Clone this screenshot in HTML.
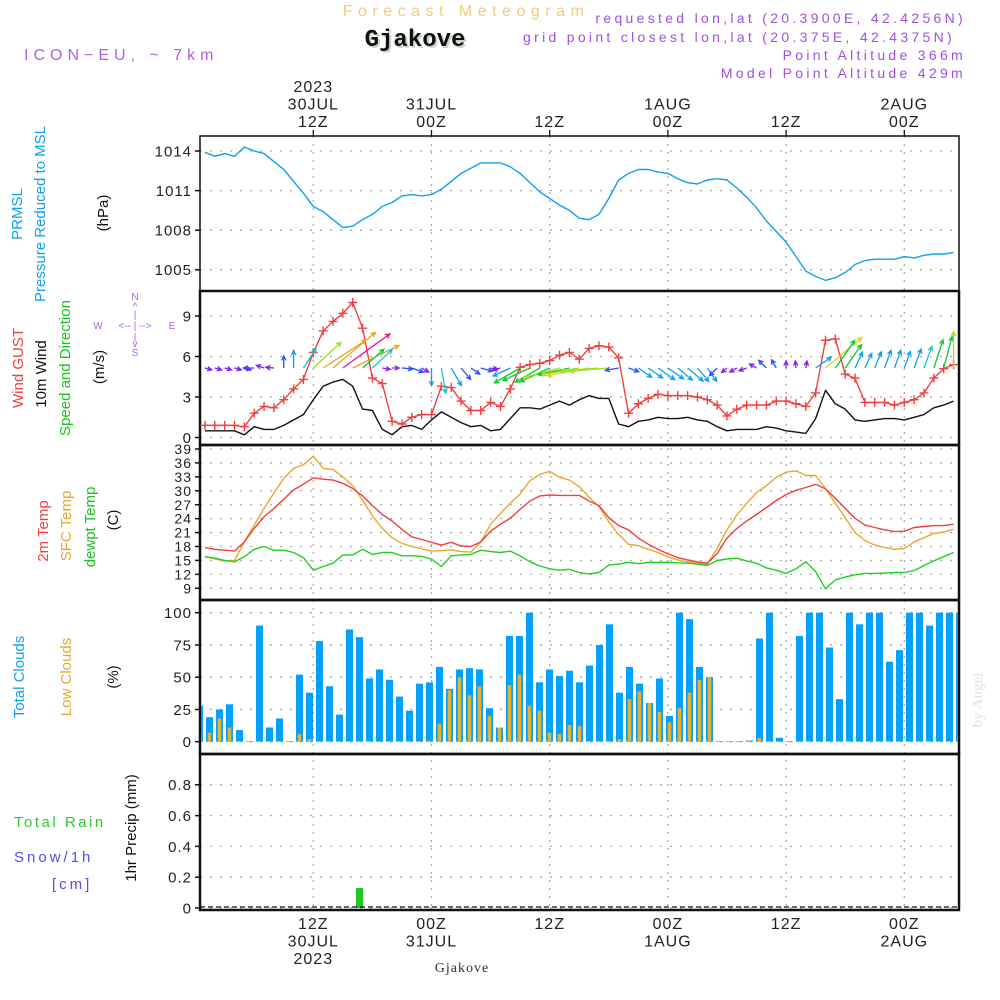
<!DOCTYPE html>
<html><head><meta charset="utf-8"><style>
html,body{margin:0;padding:0;background:#fff;}
svg{display:block;font-family:"Liberation Sans",sans-serif;}
</style></head><body>
<svg id="chart" width="1000" height="1000" viewBox="0 0 1000 1000" xmlns="http://www.w3.org/2000/svg">
<text x="466" y="16" text-anchor="middle" font-size="16" letter-spacing="5.5" fill="#f2cc80">Forecast Meteogram</text>
<text x="417" y="48" text-anchor="middle" font-family="Liberation Mono,monospace" font-weight="bold" font-size="24" fill="#c8d8c8">Gjakove</text>
<text x="415" y="46" text-anchor="middle" font-family="Liberation Mono,monospace" font-weight="bold" font-size="24" fill="#111">Gjakove</text>
<text x="24" y="60" font-size="16" letter-spacing="5" fill="#b060e8">ICON−EU, ~ 7km</text>
<g font-size="14" letter-spacing="3.3" fill="#a050e0" text-anchor="end">
<text x="966" y="23">requested lon,lat (20.3900E, 42.4256N)</text>
<text x="955" y="42">grid point closest lon,lat (20.375E, 42.4375N)</text>
<text x="966" y="60">Point Altitude 366m</text>
<text x="966" y="78">Model Point Altitude 429m</text>
</g>
<g id="axes"></g>
<g id="marks"></g>
<g font-size="15">
<text transform="translate(22,214) rotate(-90)" text-anchor="middle" fill="#10a0f0">PRMSL</text>
<text transform="translate(45,214) rotate(-90)" text-anchor="middle" fill="#10a0f0">Pressure  Reduced to MSL</text>
<text transform="translate(108,213) rotate(-90)" text-anchor="middle" fill="#111">(hPa)</text>
<text transform="translate(23,368) rotate(-90)" text-anchor="middle" fill="#f04040">Wind GUST</text>
<text transform="translate(46,374) rotate(-90)" text-anchor="middle" fill="#111">10m Wind</text>
<text transform="translate(70,368) rotate(-90)" text-anchor="middle" fill="#20c020">Speed and Direction</text>
<text transform="translate(104,367) rotate(-90)" text-anchor="middle" fill="#111">(m/s)</text>
<text transform="translate(48,531) rotate(-90)" text-anchor="middle" fill="#f04040">2m Temp</text>
<text transform="translate(71,526) rotate(-90)" text-anchor="middle" fill="#e8a830">SFC Temp</text>
<text transform="translate(95,527) rotate(-90)" text-anchor="middle" fill="#20c020">dewpt Temp</text>
<text transform="translate(118,520) rotate(-90)" text-anchor="middle" fill="#111">(C)</text>
<text transform="translate(24,677) rotate(-90)" text-anchor="middle" fill="#10a0f0">Total Clouds</text>
<text transform="translate(71,677) rotate(-90)" text-anchor="middle" fill="#e8a830">Low Clouds</text>
<text transform="translate(118,677) rotate(-90)" text-anchor="middle" fill="#111">(%)</text>
<text transform="translate(136,828) rotate(-90)" text-anchor="middle" fill="#111">1hr Precip (mm)</text>
<text x="14" y="827" letter-spacing="2.5" fill="#30c830">Total   Rain</text>
<text x="14" y="862" letter-spacing="3" fill="#5050f0">Snow/1h</text>
<text x="52" y="889" letter-spacing="3" fill="#5050f0">[cm]</text>
</g>
<g font-size="10" fill="#b060e8" text-anchor="middle">
<text x="135" y="300">N</text><text x="135" y="310">^</text><text x="135" y="318">|</text>
<text x="98" y="329">W</text><text x="135" y="329">&lt;-- | --&gt;</text><text x="172" y="329">E</text>
<text x="135" y="340">|</text><text x="135" y="347">v</text><text x="135" y="356">S</text>
</g>
<text transform="translate(982,700) rotate(-90)" text-anchor="middle" font-family="Liberation Serif,serif" font-size="15" fill="#dde5dd">by Angel</text>
<text x="462" y="972" text-anchor="middle" font-family="Liberation Serif,serif" font-size="14" letter-spacing="1" fill="#333">Gjakove</text>
</svg>
<script>
const pressure=[1013.9,1013.6,1013.8,1013.6,1014.3,1014.0,1013.8,1013.2,1012.6,1011.7,1010.8,1009.8,1009.4,1008.8,1008.2,1008.3,1008.8,1009.2,1009.8,1010.1,1010.6,1010.7,1010.6,1010.7,1011.1,1011.7,1012.3,1012.7,1013.1,1013.1,1013.1,1012.8,1012.3,1011.6,1010.9,1010.4,1009.9,1009.5,1008.9,1008.8,1009.2,1010.4,1011.8,1012.3,1012.6,1012.6,1012.4,1012.3,1011.9,1011.6,1011.5,1011.8,1011.9,1011.8,1011.2,1010.5,1009.7,1008.7,1007.9,1007.1,1006.0,1004.9,1004.5,1004.2,1004.4,1004.8,1005.4,1005.7,1005.8,1005.8,1005.8,1006.0,1005.9,1006.1,1006.2,1006.2,1006.3];
const gust=[0.9,0.9,0.9,0.9,0.8,1.8,2.3,2.2,2.8,3.6,4.3,6.3,7.9,8.6,9.2,10.0,8.1,4.4,4.0,1.2,1.0,1.5,1.7,1.7,3.8,3.7,2.7,2.0,2.0,2.6,2.3,3.6,5.2,5.4,5.5,5.7,6.1,6.3,5.8,6.6,6.8,6.7,5.9,1.8,2.5,2.9,3.2,3.1,3.1,3.1,3.0,2.8,2.4,1.6,2.1,2.4,2.4,2.4,2.7,2.7,2.5,2.3,3.3,7.2,7.3,4.7,4.4,2.6,2.6,2.6,2.4,2.6,2.8,3.3,4.4,5.1,5.4];
const wind=[0.5,0.5,0.5,0.5,0.2,0.8,0.6,0.6,0.9,1.3,1.7,2.8,3.8,4.1,4.3,3.8,2.1,2.0,0.6,0.2,0.8,0.9,0.6,1.3,1.9,1.5,1.1,0.8,0.9,0.5,0.6,1.4,2.2,2.2,2.1,2.4,2.7,2.4,2.8,3.1,2.9,2.9,1.0,0.8,1.2,1.3,1.5,1.4,1.4,1.5,1.3,1.2,0.8,0.5,0.6,0.6,0.6,0.8,0.7,0.5,0.4,0.3,1.4,3.5,2.5,2.1,1.3,1.2,1.3,1.4,1.4,1.3,1.5,1.7,2.2,2.4,2.7];
const windDir=[-15,-15,-15,-15,-15,180,160,175,90,90,57,43,33,40,36,26,41,43,-10,0,-5,-20,-30,-90,-80,-60,-50,-35,-15,-10,195,205,210,205,210,205,195,192,190,190,185,185,190,-20,-35,-35,-35,-35,-40,-40,-50,-55,225,220,210,200,150,135,120,90,95,80,35,40,55,55,65,65,68,70,70,70,70,70,72,75,90];
const temp2m=[17.8,17.4,17.2,17.0,19.0,21.9,24.4,26.2,28.2,30.2,31.4,32.8,32.5,32.3,31.6,30.5,28.9,26.8,24.9,23.5,21.7,20.1,19.5,18.9,18.3,18.9,18.1,18.0,19.0,21.3,22.8,24.1,26.0,27.8,28.9,29.1,29.0,29.0,29.0,27.8,26.8,24.2,22.5,21.6,19.8,18.5,17.4,16.4,15.6,15.1,14.7,14.4,16.5,19.8,21.9,23.5,24.9,26.4,27.9,29.2,30.1,30.7,31.4,30.4,28.4,26.2,24.1,22.6,22.1,21.6,21.2,21.3,22.1,22.3,22.5,22.5,22.8];
const sfcTemp=[15.8,15.3,14.9,15.0,19.0,22.6,26.2,29.5,32.7,34.8,35.6,37.5,34.8,34.6,33.0,31.1,28.0,24.6,21.9,19.9,18.7,18.0,17.5,17.0,17.1,17.3,16.9,16.8,19.0,22.8,25.1,27.3,29.3,32.2,33.5,34.2,32.9,32.3,30.9,28.6,26.6,23.3,20.6,18.5,18.2,17.4,16.7,15.8,15.1,14.7,14.4,14.2,17.6,21.6,24.8,27.3,29.6,31.1,32.9,34.0,34.3,33.3,33.3,30.5,27.3,24.2,21.0,19.3,18.3,17.8,17.4,17.6,19.0,19.9,20.8,21.1,21.7];
const dewpt=[15.8,15.5,15.0,14.7,15.8,17.4,18.0,17.2,17.2,16.7,15.6,12.9,13.7,14.4,16.2,16.2,17.4,16.3,16.7,16.7,16.0,16.0,15.9,15.3,13.7,16.0,16.2,16.3,17.2,16.9,16.7,17.0,16.0,14.7,13.8,13.2,12.9,13.1,12.4,12.1,12.4,14.0,14.2,14.6,14.3,14.6,14.6,14.6,14.5,14.4,14.2,13.9,15.0,15.3,15.5,14.9,14.4,13.4,12.9,12.2,13.2,14.7,12.6,8.9,10.8,11.4,11.9,12.2,12.2,12.3,12.4,12.4,12.8,13.9,14.9,15.8,16.7];
const totalClouds=[28,19,25,29,9,0.5,90,11,18,0.5,52,38,78,43,21,87,81,49,56,48,35,24,45,46,58,41,56,57,56,26,11,82,82,100,46,56,51,55,46,59,75,91,38,58,45,30,49,20,100,95,58,50,0.5,0.5,0.5,1,80,100,3,0.5,82,100,100,73,33,100,91,100,100,62,71,100,100,90,100,100,100];
const lowClouds=[5,7,18,11,0.5,0.5,0.5,0.5,0.5,0.5,6,2,0.5,0.5,0.5,0.5,0.5,0.5,0.5,0.5,0.5,0.5,0.5,1,14,40,50,36,43,20,11,44,52,28,24,7,6,13,12,0.5,0.5,0.5,2,33,39,30,23,15,26,38,48,50,0.5,0.5,0.5,1,3,0.5,0.5,0.5,0.5,0.5,0.5,0.5,0.5,0.5,0.5,0.5,0.5,0.5,0.5,0.5,0.5,0.5,0.5,0.5,0.5];
const precip=[0,0,0,0,0,0,0,0,0,0,0,0,0,0,0,0,0.13,0,0,0,0,0,0,0,0,0,0,0,0,0,0,0,0,0,0,0,0,0,0,0,0,0,0,0,0,0,0,0,0,0,0,0,0,0,0,0,0,0,0,0,0,0,0,0,0,0,0,0,0,0,0,0,0,0,0,0];
const pressureTicks=[1005,1008,1011,1014];
const windTicks=[0,3,6,9];
const tempTicks=[9,12,15,18,21,24,27,30,33,36,39];
const cloudTicks=[0,25,50,75,100];
const precipTicks=[0,0.2,0.4,0.6,0.8];
const timeTicks=[12,24,36,48,60,72];
const topLabels=[["2023","30JUL","12Z"],["","31JUL","00Z"],["","","12Z"],["","1AUG","00Z"],["","","12Z"],["","2AUG","00Z"]];
const bottomLabels=[["12Z","30JUL","2023"],["00Z","31JUL",""],["12Z","",""],["00Z","1AUG",""],["12Z","",""],["00Z","2AUG",""]];

const NS="http://www.w3.org/2000/svg";
const L=200,R=959;
const xT=t=>313.3+(t-12)*9.85;
const xBar=k=>199.5+10*k;
const yP=v=>151+(1014-v)*13.2;
const yW=v=>437.5-v*13.5;
const yT=v=>449+(39-v)*4.643;
const yC=v=>741.7-v*1.29;
const yR=v=>908-v*154;
const panels=[[136,291],[291,445],[445,600],[600,754],[754,910]];
const axes=document.getElementById('axes'),marks=document.getElementById('marks');
function el(tag,attrs,parent){const e=document.createElementNS(NS,tag);for(const k in attrs)e.setAttribute(k,attrs[k]);parent.appendChild(e);return e;}
function txt(s,x,y,size,anchor,parent){const e=el('text',{x:x,y:y,'font-size':size,'text-anchor':anchor,fill:'#222','letter-spacing':1},parent);e.textContent=s;return e;}

function hGrid(vals,yf,name,fs){vals.forEach(v=>{const y=yf(v);
 const g=el('line',{x1:L,x2:R,y1:y,y2:y,stroke:'#aaa','stroke-width':1.3,'stroke-dasharray':'2 8'},axes);
 
 const tk=el('line',{x1:L-5,x2:L,y1:y,y2:y,stroke:'#111','stroke-width':1.5},axes);
 
 const t=txt(String(v),L-8,y+fs*0.36,fs,'end',axes);
 });}
hGrid(pressureTicks,yP,'pressure',15);
hGrid(windTicks,yW,'wind',15);
hGrid(tempTicks,yT,'temp',14);
hGrid(cloudTicks,yC,'cloud',15);
hGrid(precipTicks,yR,'precip',15);
timeTicks.forEach((t,i)=>{const x=xT(t);
 const g=el('line',{x1:x,x2:x,y1:136,y2:910,stroke:'#aaa','stroke-width':1.3,'stroke-dasharray':'2 6'},axes);
 
 const tk=el('line',{x1:x,x2:x,y1:130,y2:136,stroke:'#111','stroke-width':1.3},axes);
 
 topLabels[i].forEach((s,j)=>{if(s){const e=txt(s,x,92+j*17.5,16,'middle',axes);
  }});
 bottomLabels[i].forEach((s,j)=>{if(s){const e=txt(s,x,929+j*17.5,16,'middle',axes);
  }});
});
panels.forEach((p,i)=>{const r=el('rect',{x:L,y:p[0],width:R-L,height:p[1]-p[0],fill:'none',stroke:'#111','stroke-width':i==0?1.5:2.5},axes);
 });

function line(vals,yf,color,name,w){const pts=vals.map((v,i)=>xT(i+1).toFixed(1)+','+yf(v).toFixed(1)).join(' ');
 const e=el('polyline',{points:pts,fill:'none',stroke:color,'stroke-width':w||1.4,'stroke-linejoin':'round'},marks);
 }
line(pressure,yP,'#10a0f0','pressure-line');
line(wind,yW,'#111','wind-speed-line');
line(gust,yW,'#f04040','wind-gust-line');
gust.forEach((v,i)=>{const x=xT(i+1),y=yW(v);
 const m=el('path',{d:`M${x-4.5},${y}H${x+4.5}M${x},${y-4.5}V${y+4.5}`,stroke:'#f04040','stroke-width':1.4},marks);
 });
function windColor(s){const stops=[[0,'#8020f0'],[0.7,'#2850ff'],[1.2,'#10a0f0'],[1.7,'#10c8c8'],[2.1,'#10c830'],[2.6,'#a0e020'],[3.0,'#e0d020'],[3.6,'#f0a020'],[4.2,'#f0108a']];
 let c=stops[0][1];stops.forEach(s0=>{if(s>=s0[0])c=s0[1];});return c;}
windDir.forEach((a,i)=>{const x=xT(i+1),y=368,len=Math.max(7,wind[i]*13.5),r=a*Math.PI/180;
 const hx=x+len*Math.cos(r),hy=y-len*Math.sin(r);const h=5;
 const b1=r+Math.PI-0.45,b2=r+Math.PI+0.45;
 const d=`M${x},${y}L${hx},${hy}M${hx+h*Math.cos(b1)},${hy-h*Math.sin(b1)}L${hx},${hy}L${hx+h*Math.cos(b2)},${hy-h*Math.sin(b2)}`;
 const e=el('path',{d:d,fill:'none',stroke:windColor(wind[i]),'stroke-width':1.3},marks);
 });
line(sfcTemp,yT,'#e8a830','sfc-temp-line');
line(temp2m,yT,'#f04040','temp-2m-line');
line(dewpt,yT,'#20d020','dewpoint-line');
const clip=el('clipPath',{id:'cl'},marks);el('rect',{x:L+1,y:600,width:R-L-2,height:310},clip);
const bars=el('g',{'clip-path':'url(#cl)'},marks);
totalClouds.forEach((v,k)=>{const x=xBar(k);
 const b=el('rect',{x:x-3.5,y:yC(v),width:7,height:yC(0)-yC(v),fill:'#05a0f8'},bars);
 
 const lv=lowClouds[k];const lb=el('rect',{x:x-1.8,y:yC(lv),width:3.6,height:yC(0)-yC(lv),fill:'#e8b030'},bars);
 });
precip.forEach((v,k)=>{if(v>0){const x=xBar(k);
 const b=el('rect',{x:x-3.5,y:yR(v),width:7,height:yR(0)-yR(v),fill:'#20c820'},bars);
 }});
const z=el('line',{x1:L,x2:R,y1:yR(0)-1,y2:yR(0)-1,stroke:'#111','stroke-width':1.2,'stroke-dasharray':'5 3'},marks);

</script>
</body></html>
